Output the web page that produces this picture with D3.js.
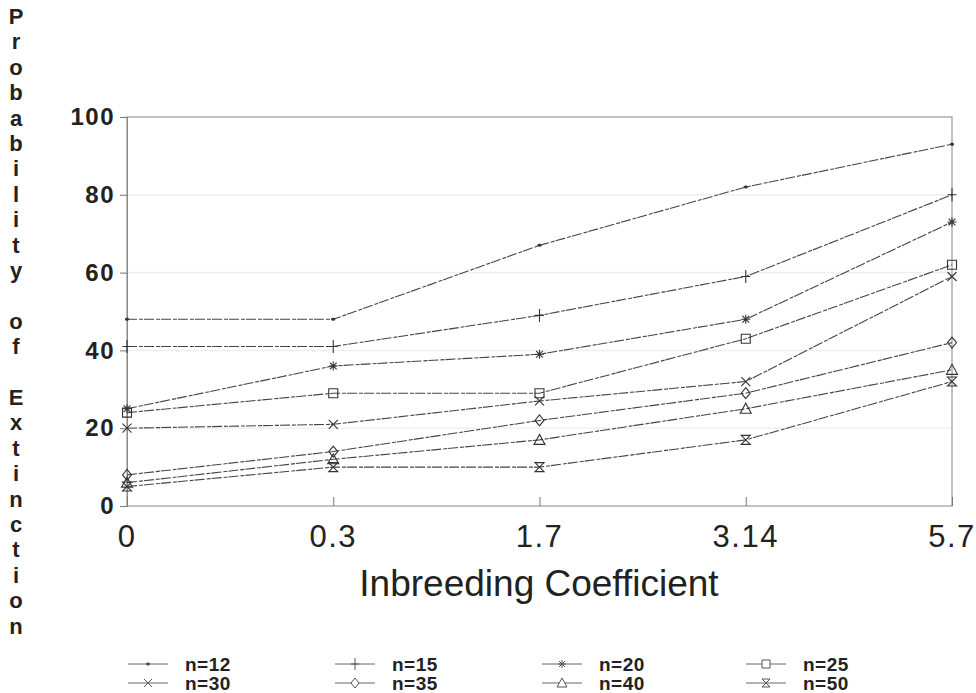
<!DOCTYPE html>
<html lang="en">
<head>
<meta charset="utf-8">
<title>Probability of Extinction</title>
<script src="https://cdn.jsdelivr.net/npm/d3@7"></script>
<style>
body { margin: 0; background: #fff; }
svg { display: block; }
.ylab { font-family: "Liberation Sans", Arial, sans-serif; font-weight: bold; font-size: 24px; letter-spacing: 1.5px; fill: #222; }
.xlab { font-family: "Liberation Sans", Arial, sans-serif; font-size: 31px; letter-spacing: 1.5px; fill: #222; }
.title { font-family: "Liberation Sans Narrow", "Arial Narrow", sans-serif; font-size: 37px; fill: #222; }
.vtitle { font-family: "Liberation Sans", Arial, sans-serif; font-weight: bold; font-size: 22px; fill: #222; }
.leg { font-family: "Liberation Sans", Arial, sans-serif; font-weight: bold; font-size: 19px; letter-spacing: 0.5px; fill: #222; }
</style>
</head>
<body>
<svg id="chart" width="976" height="693"></svg>
<script>
// categories on the x axis (inbreeding coefficient)
var categories = ["0", "0.3", "1.7", "3.14", "5.7"];
var yTicks = [0, 20, 40, 60, 80, 100];

// probability of extinction (%) per population size
var seriesNames = ["n=12", "n=15", "n=20", "n=25", "n=30", "n=35", "n=40", "n=50"];
var n12 = [48, 48, 67, 82, 93];
var n15 = [41, 41, 49, 59, 80];
var n20 = [25, 36, 39, 48, 73];
var n25 = [24, 29, 29, 43, 62];
var n30 = [20, 21, 27, 32, 59];
var n35 = [8, 14, 22, 29, 42];
var n40 = [6, 12, 17, 25, 35];
var n50 = [5, 10, 10, 17, 32];
var values = [n12, n15, n20, n25, n30, n35, n40, n50];

var markers = ["dot", "plus", "star", "square", "cross", "diamond", "triangle", "hourglass"];

var svg = d3.select("#chart");

var x = d3.scalePoint().domain(categories).range([127, 952]),
    y = d3.scaleLinear().domain([0, 100]).range([506, 117]);

// faint grid
svg.append("g").selectAll("line")
    .data([20, 40, 60, 80])
  .enter().append("line")
    .attr("x1", x.range()[0]).attr("x2", x.range()[1])
    .attr("y1", function(d) { return y(d); })
    .attr("y2", function(d) { return y(d); })
    .attr("stroke", "#efefef").attr("stroke-width", 1.5);

// frame
svg.append("rect")
    .attr("x", x.range()[0]).attr("y", y(100))
    .attr("width", x.range()[1] - x.range()[0])
    .attr("height", y(0) - y(100))
    .attr("fill", "none").attr("stroke", "#999").attr("stroke-width", 1.2);

// y axis
var yAxis = svg.append("g")
    .attr("transform", "translate(" + x.range()[0] + ",0)")
    .call(d3.axisLeft(y).tickValues(yTicks).tickSize(7).tickPadding(5));
yAxis.select(".domain").attr("stroke", "#8a8a8a");
yAxis.selectAll(".tick line").attr("stroke", "#777");
yAxis.selectAll(".tick text").attr("class", "ylab").attr("fill", null);

// x axis: ticks point inward
var xAxis = svg.append("g")
    .attr("transform", "translate(0," + y(0) + ")")
    .call(d3.axisTop(x).tickSize(9).tickPadding(0));
xAxis.select(".domain").remove();
xAxis.selectAll(".tick line").attr("stroke", "#777");
xAxis.selectAll(".tick text").remove();
svg.append("g").selectAll("text")
    .data(categories)
  .enter().append("text")
    .attr("class", "xlab")
    .attr("x", function(d) { return x(d); })
    .attr("y", 547)
    .attr("text-anchor", "middle")
    .text(function(d) { return d; });

svg.append("text")
    .attr("class", "title")
    .attr("x", 539).attr("y", 596)
    .attr("text-anchor", "middle")
    .text("Inbreeding Coefficient");

// stacked vertical y title
var vchars = "Probability of Extinction".split("").map(function(c) { return c === " " ? "" : c; });
svg.append("g").selectAll("text")
    .data(vchars)
  .enter().append("text")
    .attr("class", "vtitle")
    .attr("x", 16)
    .attr("y", function(d, i) { return 24 + i * 25.4; })
    .attr("text-anchor", "middle")
    .text(function(d) { return d; });

// marker paths centred at 0,0
function markerPath(type, s) {
  var p = d3.path();
  switch (type) {
    case "dot": p.moveTo(-2, 0); p.lineTo(2, 0); p.moveTo(0, -1.5); p.lineTo(0, 1.5); break;
    case "plus": p.moveTo(-s, 0); p.lineTo(s, 0); p.moveTo(0, -s - 2); p.lineTo(0, s + 2); break;
    case "star":
      p.moveTo(-s, 0); p.lineTo(s, 0); p.moveTo(0, -s); p.lineTo(0, s);
      p.moveTo(-s * 0.75, -s * 0.75); p.lineTo(s * 0.75, s * 0.75);
      p.moveTo(-s * 0.75, s * 0.75); p.lineTo(s * 0.75, -s * 0.75); break;
    case "square": p.rect(-s, -s, 2 * s, 2 * s); break;
    case "cross": p.moveTo(-s, -s); p.lineTo(s, s); p.moveTo(-s, s); p.lineTo(s, -s); break;
    case "diamond": p.moveTo(0, -s - 1); p.lineTo(s, 0); p.lineTo(0, s + 1); p.lineTo(-s, 0); p.closePath(); break;
    case "triangle": p.moveTo(0, -s - 1); p.lineTo(s + 1, s); p.lineTo(-s - 1, s); p.closePath(); break;
    case "hourglass": p.moveTo(-s, -s); p.lineTo(s, -s); p.lineTo(-s, s); p.lineTo(s, s); p.closePath(); break;
  }
  return p.toString();
}

var line = d3.line()
    .x(function(d, i) { return x(categories[i]); })
    .y(function(d) { return y(d); });

var series = svg.append("g").selectAll("g")
    .data(values)
  .enter().append("g");

series.append("path")
    .attr("d", line)
    .attr("fill", "none")
    .attr("stroke", "#444")
    .attr("stroke-width", 1.1)
    .attr("stroke-dasharray", "10,2,4,1");

series.each(function(vals, si) {
  d3.select(this).selectAll(".mk")
      .data(vals)
    .enter().append("path")
      .attr("class", "mk")
      .attr("transform", function(d, i) { return "translate(" + x(categories[i]) + "," + y(d) + ")"; })
      .attr("d", markerPath(markers[si], 4.5))
      .attr("fill", markers[si] === "dot" ? "#222" : "none")
      .attr("stroke", "#333")
      .attr("stroke-width", markers[si] === "dot" ? 2 : 1.1);
});

// legend, 4 columns x 2 rows
var legX = [128, 335, 542, 746], legY = [664, 683];
var leg = svg.append("g").selectAll("g")
    .data(seriesNames)
  .enter().append("g")
    .attr("transform", function(d, i) { return "translate(" + legX[i % 4] + "," + legY[Math.floor(i / 4)] + ")"; });
leg.append("line")
    .attr("x1", 0).attr("x2", 40).attr("y1", 0).attr("y2", 0)
    .attr("stroke", "#666").attr("stroke-width", 1);
leg.append("path")
    .attr("transform", "translate(20,0)")
    .attr("d", function(d, i) { return markerPath(markers[i], 4); })
    .attr("fill", function(d, i) { return markers[i] === "dot" ? "#222" : "#fff"; })
    .attr("stroke", "#555")
    .attr("stroke-width", function(d, i) { return markers[i] === "dot" ? 2 : 1; });
leg.append("text")
    .attr("class", "leg")
    .attr("x", 57).attr("y", 7)
    .text(function(d) { return d; });
</script>
</body>
</html>
